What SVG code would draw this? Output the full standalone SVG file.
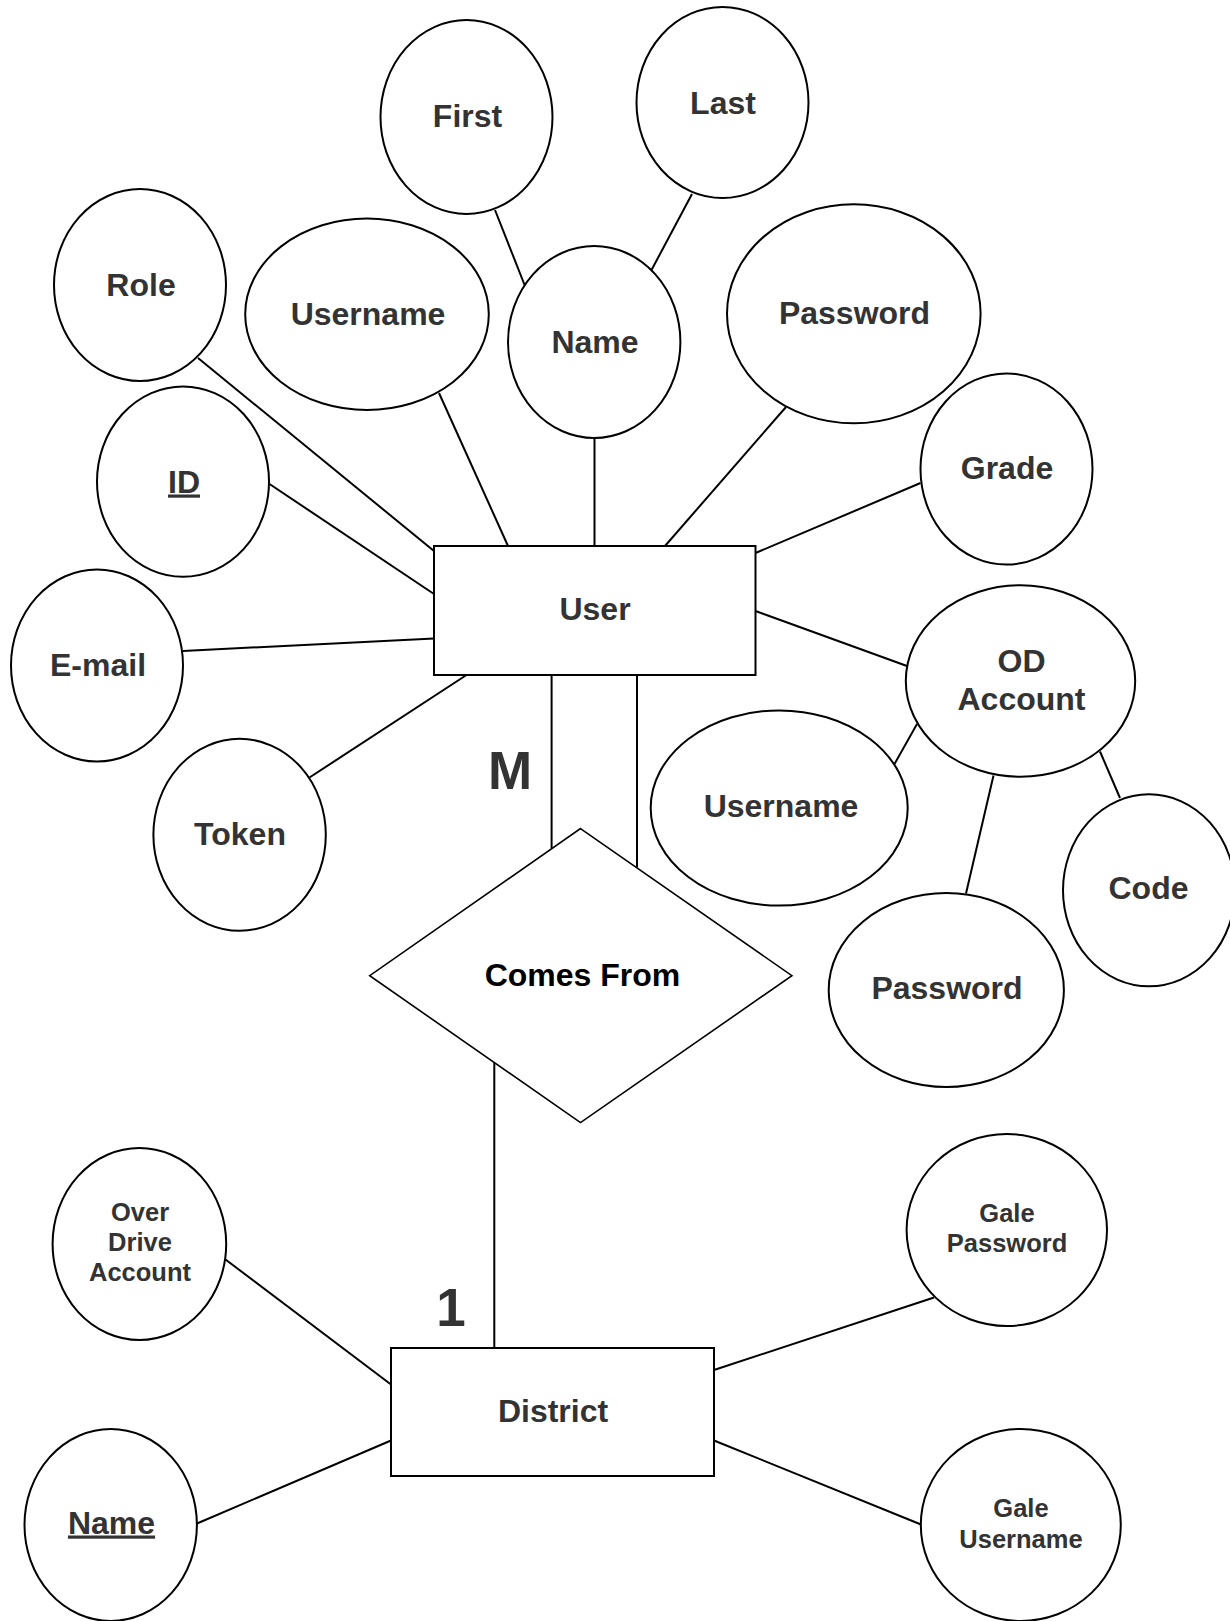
<svg xmlns="http://www.w3.org/2000/svg" width="1230" height="1621" viewBox="0 0 1230 1621">
  <style>
    .attr { fill: #ffffff; stroke: #000000; stroke-width: 2; }
    .ent { fill: #ffffff; stroke: #000000; stroke-width: 2; }
    .rel { fill: #ffffff; stroke: #000000; stroke-width: 1.6; }
    .lbl { font-family: "Liberation Sans", Arial, sans-serif; font-weight: bold; font-size: 32px; fill: #333333; text-anchor: middle; }
    .sm { font-size: 25.5px; }
    .card { font-size: 53px; }
    .relt { fill: #000000; }
    .key { text-decoration: underline; }
    #connectors line { stroke: #000000; stroke-width: 2; }
  </style>

  <rect x="0" y="0" width="1230" height="1621" fill="#ffffff"/>

  <!-- connectors -->
  <g id="connectors">
    <line x1="495" y1="210" x2="525" y2="286"/>
    <line x1="692" y1="194" x2="651.5" y2="270"/>
    <line x1="198" y1="358" x2="434" y2="551"/>
    <line x1="439" y1="393" x2="508" y2="546"/>
    <line x1="594.5" y1="438" x2="594.5" y2="546"/>
    <line x1="786" y1="407" x2="665" y2="546"/>
    <line x1="920.5" y1="483" x2="755.5" y2="553"/>
    <line x1="269.5" y1="484" x2="434" y2="594"/>
    <line x1="183" y1="651" x2="434" y2="638.5"/>
    <line x1="309.5" y1="777.5" x2="466.5" y2="675"/>
    <line x1="755.5" y1="611" x2="907" y2="666"/>
    <line x1="894.5" y1="764" x2="917" y2="724"/>
    <line x1="993.5" y1="775.5" x2="966" y2="893.5"/>
    <line x1="1100" y1="751.5" x2="1120" y2="798"/>
    <line x1="551.6" y1="675" x2="551.6" y2="848.6"/>
    <line x1="637" y1="675" x2="637" y2="867.5"/>
    <line x1="494.3" y1="1062.5" x2="494.3" y2="1348"/>
    <line x1="225.5" y1="1259.5" x2="391" y2="1384.5"/>
    <line x1="197" y1="1523.5" x2="391" y2="1440.5"/>
    <line x1="934" y1="1297.5" x2="714" y2="1370"/>
    <line x1="714" y1="1440.5" x2="921" y2="1524.5"/>
  </g>

  <!-- User entity and its attributes -->
  <g id="user">
    <rect class="ent" x="434" y="546" width="321.5" height="129"/>
    <text class="lbl" x="595" y="619.5">User</text>
  </g>
  <g id="first">
    <ellipse class="attr" cx="466.5" cy="117" rx="86" ry="97"/>
    <text class="lbl" x="467.5" y="127">First</text>
  </g>
  <g id="last">
    <ellipse class="attr" cx="722.5" cy="102.5" rx="86" ry="95.5"/>
    <text class="lbl" x="723" y="113.5">Last</text>
  </g>
  <g id="role">
    <ellipse class="attr" cx="140" cy="285" rx="86" ry="96"/>
    <text class="lbl" x="141" y="296">Role</text>
  </g>
  <g id="username">
    <ellipse class="attr" cx="367" cy="314.3" rx="121.8" ry="95.7"/>
    <text class="lbl" x="368" y="324.5">Username</text>
  </g>
  <g id="name">
    <ellipse class="attr" cx="594.2" cy="342" rx="86.2" ry="96"/>
    <text class="lbl" x="595" y="353">Name</text>
  </g>
  <g id="password">
    <ellipse class="attr" cx="853.8" cy="313.8" rx="126.8" ry="109.5"/>
    <text class="lbl" x="854.5" y="323.5">Password</text>
  </g>
  <g id="grade">
    <ellipse class="attr" cx="1006.5" cy="469" rx="86" ry="95.5"/>
    <text class="lbl" x="1007" y="478.5">Grade</text>
  </g>
  <g id="id">
    <ellipse class="attr" cx="183" cy="481.6" rx="86" ry="95.2"/>
    <text class="lbl key" x="184" y="492.5">ID</text>
  </g>
  <g id="email">
    <ellipse class="attr" cx="97" cy="665.5" rx="86" ry="96"/>
    <text class="lbl" x="98" y="676">E-mail</text>
  </g>
  <g id="token">
    <ellipse class="attr" cx="239.6" cy="834.8" rx="86.2" ry="96"/>
    <text class="lbl" x="240" y="844.5">Token</text>
  </g>
  <g id="od-account">
    <ellipse class="attr" cx="1020.5" cy="681" rx="114.7" ry="95.7"/>
    <text class="lbl" x="1021.5" y="672">OD</text>
    <text class="lbl" x="1021.5" y="709.5">Account</text>
  </g>
  <g id="od-username">
    <ellipse class="attr" cx="779.2" cy="808" rx="128.5" ry="97.6"/>
    <text class="lbl" x="781" y="817">Username</text>
  </g>
  <g id="od-password">
    <ellipse class="attr" cx="946.3" cy="990" rx="117.6" ry="97"/>
    <text class="lbl" x="947" y="999">Password</text>
  </g>
  <g id="od-code">
    <ellipse class="attr" cx="1149" cy="890.3" rx="86" ry="96"/>
    <text class="lbl" x="1148.5" y="898.5">Code</text>
  </g>

  <!-- relationship and cardinalities -->
  <g id="comes-from">
    <polygon class="rel" points="580.5,828.6 791.9,975.7 580.5,1122.6 369.7,975.7"/>
    <text class="lbl relt" x="582.5" y="986">Comes From</text>
  </g>
  <g id="card-m">
    <text class="lbl card" x="510" y="789">M</text>
  </g>
  <g id="card-1">
    <text class="lbl card" x="451" y="1326">1</text>
  </g>

  <!-- District entity and its attributes -->
  <g id="district">
    <rect class="ent" x="391" y="1348" width="323" height="128"/>
    <text class="lbl" x="553" y="1421.5">District</text>
  </g>
  <g id="overdrive-account">
    <ellipse class="attr" cx="139.4" cy="1244" rx="86.8" ry="96"/>
    <text class="lbl sm" x="140" y="1221">Over</text>
    <text class="lbl sm" x="140" y="1251">Drive</text>
    <text class="lbl sm" x="140" y="1281">Account</text>
  </g>
  <g id="district-name">
    <ellipse class="attr" cx="110.7" cy="1525" rx="86.2" ry="96"/>
    <text class="lbl key" x="111.5" y="1533.5">Name</text>
  </g>
  <g id="gale-password">
    <ellipse class="attr" cx="1006.8" cy="1230" rx="100.2" ry="96"/>
    <text class="lbl sm" x="1007" y="1222">Gale</text>
    <text class="lbl sm" x="1007" y="1252">Password</text>
  </g>
  <g id="gale-username">
    <ellipse class="attr" cx="1020.8" cy="1525" rx="100" ry="96"/>
    <text class="lbl sm" x="1021" y="1517">Gale</text>
    <text class="lbl sm" x="1021" y="1547.5">Username</text>
  </g>
</svg>
